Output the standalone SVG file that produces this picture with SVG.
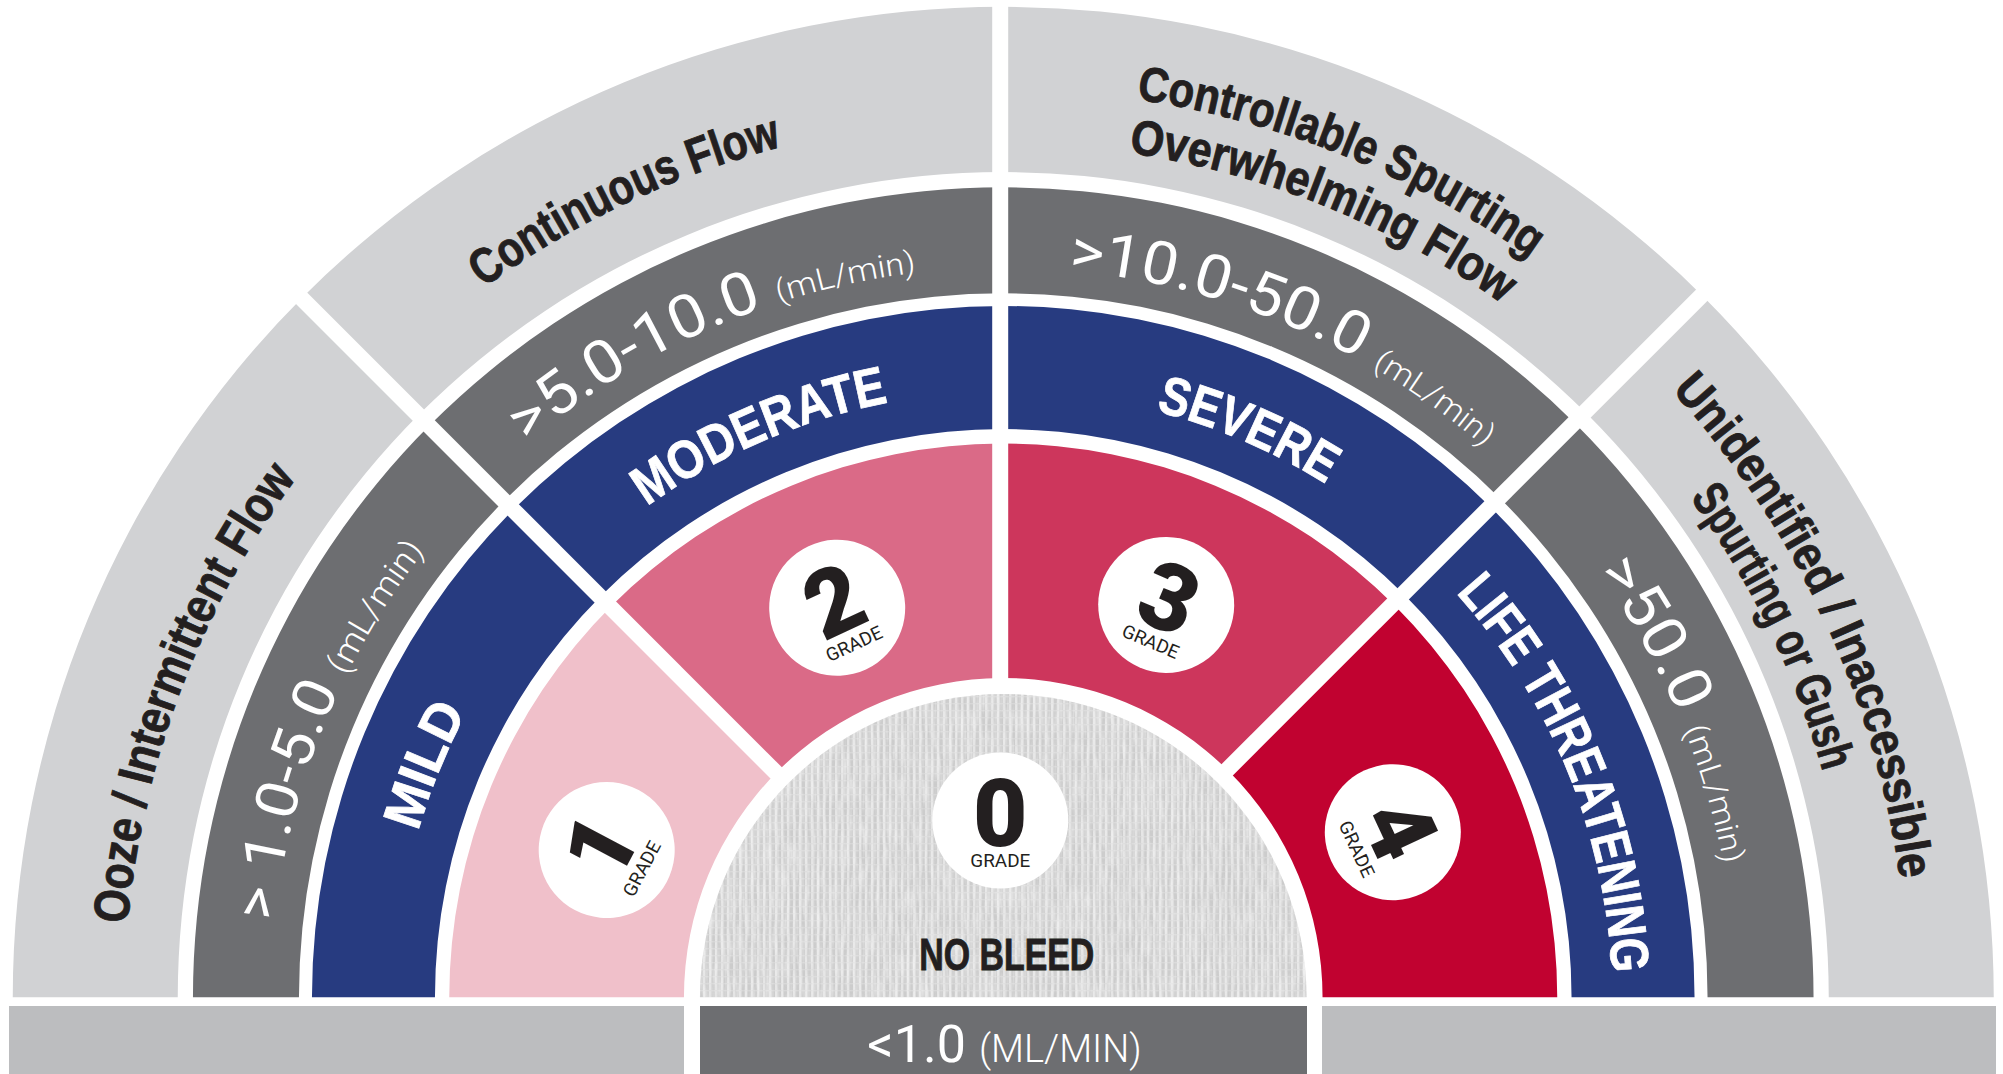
<svg xmlns="http://www.w3.org/2000/svg" width="2003" height="1074" viewBox="0 0 2003 1074">
<defs>
<style>
.ringA{fill:#d1d2d4}
.ringB{fill:#6d6e71}
.ringC{fill:#273b80}
.div{stroke:#fff;stroke-width:16;fill:none}
.lbl{font-family:'Liberation Sans Narrow','Liberation Sans',Arial,sans-serif;font-weight:700;fill:#231f20;stroke:#231f20;stroke-width:0.9px}
.wlbl{font-family:'Liberation Sans Narrow','Liberation Sans',Arial,sans-serif;font-weight:700;fill:#fff;stroke:#fff;stroke-width:0.8px}
.num{font-family:Roboto,'DejaVu Sans',sans-serif;font-weight:400;fill:#fff}
.unit{font-weight:300}
.gd{font-family:Roboto,'DejaVu Sans',sans-serif;font-weight:900;fill:#231f20;text-anchor:middle;font-size:94px}
.gt{font-family:Roboto,'DejaVu Sans',sans-serif;font-weight:400;fill:#231f20;text-anchor:middle;font-size:18.5px}
.gc{fill:#fff}
</style>
<path id="rA" d="M12.75 997.3A990.5 990.5 0 0 1 1993.75 997.3L1828.75 997.3A825.5 825.5 0 0 0 177.75 997.3Z"/>
<path id="rB" d="M192.95 997.3A810.3 810.3 0 0 1 1813.55 997.3L1707.55 997.3A704.3 704.3 0 0 0 298.95 997.3Z"/>
<path id="rC" d="M311.95 997.3A691.3 691.3 0 0 1 1694.55 997.3L1571.55 997.3A568.3 568.3 0 0 0 434.95 997.3Z"/>
<path id="rD" d="M449.25 997.3A554 554 0 0 1 1557.25 997.3L1322.55 997.3A319.3 319.3 0 0 0 683.95 997.3Z"/>
<path id="gz" d="M699.95 997.3A303.3 303.3 0 0 1 1306.55 997.3Z"/>
<clipPath id="q1"><polygon points="1000.15,996.85 -20,-23.3 -20,1000 1000.15,1000"/></clipPath>
<clipPath id="q2"><polygon points="1000.15,996.85 -20,-23.3 -20,-40 1000.2,-40"/></clipPath>
<clipPath id="q3"><polygon points="1000.15,996.85 1000.2,-40 2037,-40"/></clipPath>
<clipPath id="q4"><polygon points="1000.15,996.85 2037,-40 2040,-40 2040,1000 1000.15,1000"/></clipPath>
<pattern id="weave" width="6" height="7" patternUnits="userSpaceOnUse">
<rect width="6" height="7" fill="#cdcdcd"/>
<rect x="1" width="2.4" height="7" fill="#e6e6e6"/>
<rect y="3" width="6" height="1.3" fill="#dedede" opacity="0.7"/>
</pattern>
<filter id="noise" x="0" y="0" width="1" height="1">
<feTurbulence type="fractalNoise" baseFrequency="0.3 0.045" numOctaves="2" seed="4" result="n"/>
<feColorMatrix in="n" type="matrix" values="0 0 0 0 0.96 0 0 0 0 0.96 0 0 0 0 0.96 0 0 0 1.6 -0.55" result="w"/>
<feComposite in="w" in2="SourceGraphic" operator="in"/>
</filter>
<filter id="shade" x="0" y="0" width="1" height="1">
<feTurbulence type="fractalNoise" baseFrequency="0.02 0.012" numOctaves="2" seed="9" result="n"/>
<feColorMatrix in="n" type="matrix" values="0 0 0 0 0.55 0 0 0 0 0.55 0 0 0 0 0.55 0 0 0 0.9 -0.3" result="s"/>
<feComposite in="s" in2="SourceGraphic" operator="in"/>
</filter>
<path id="tA1" d="M127.6 923.9A879 879 0 0 1 325 441.4"/>
<path id="tA2" d="M483.55 287.85A882 882 0 0 1 827.4 136.2"/>
<path id="tA3a" d="M1136.35 99.3A911 911 0 0 1 1569.15 286.55"/>
<path id="tA3b" d="M1128.45 152.7A857 857 0 0 1 1537.95 330.7"/>
<path id="tA4a" d="M1671.55 390.3A905 905 0 0 1 1905.2 926.35"/>
<path id="tA4b" d="M1689.95 497.9A851 851 0 0 1 1833.75 814.9"/>
<path id="tB1" d="M274.55 921.3A733 733 0 0 1 449.25 520.6"/>
<path id="tB2" d="M527.2 443.1A733 733 0 0 1 954.65 269.1"/>
<path id="tB3" d="M1068.45 270.4A733 733 0 0 1 1512.45 473.2"/>
<path id="tB4" d="M1597.75 571.7A733 733 0 0 1 1729.65 902.3"/>
<path id="tC1" d="M418.15 831.6A609 609 0 0 1 482.35 685"/>
<path id="tC2" d="M647.05 506.6A609 609 0 0 1 919.55 397.3"/>
<path id="tC3" d="M1155.75 410.9A609 609 0 0 1 1352.55 501.6"/>
<path id="tC4" d="M1455.85 593A609 609 0 0 1 1612.25 1004.75"/>
</defs>

<g id="ring-flow">
<use href="#rA" class="ringA"/>
</g>
<g id="ring-rate">
<use href="#rB" class="ringB"/>
</g>
<g id="ring-severity">
<use href="#rC" class="ringC"/>
</g>
<g id="ring-grade">
<use href="#rD" fill="#f0c0ca" clip-path="url(#q1)"/>
<use href="#rD" fill="#da6a87" clip-path="url(#q2)"/>
<use href="#rD" fill="#cd365c" clip-path="url(#q3)"/>
<use href="#rD" fill="#c10230" clip-path="url(#q4)"/>
</g>

<g id="dividers">
<line class="div" x1="1000.15" y1="996.85" x2="-20" y2="-23.3"/>
<line class="div" x1="1000.2" y1="997" x2="1000.2" y2="-20"/>
<line class="div" x1="1000.15" y1="996.85" x2="2037" y2="-40"/>
</g>

<g id="no-bleed">
<use href="#gz" fill="url(#weave)"/>
<use href="#gz" fill="#000" filter="url(#shade)" opacity="0.35"/>
<use href="#gz" fill="#000" filter="url(#noise)" opacity="0.6"/>
<text class="lbl" x="919.3" y="970" font-size="45" textLength="175" lengthAdjust="spacingAndGlyphs">NO BLEED</text>
</g>

<g id="grade0" transform="translate(1000.3 820.5)"><circle class="gc" r="68"/><text class="gd" y="25.2">0</text><text class="gt" y="46.2" textLength="60" lengthAdjust="spacingAndGlyphs">GRADE</text></g>
<g id="grade1" transform="translate(606.7 850) rotate(-62)"><circle class="gc" r="68"/><text class="gd" y="25.2">1</text><text class="gt" y="46.2" textLength="60" lengthAdjust="spacingAndGlyphs">GRADE</text></g>
<g id="grade2" transform="translate(837.2 607.8) rotate(-25)"><circle class="gc" r="68"/><text class="gd" y="25.2">2</text><text class="gt" y="46.2" textLength="60" lengthAdjust="spacingAndGlyphs">GRADE</text></g>
<g id="grade3" transform="translate(1166.2 604.9) rotate(23)"><circle class="gc" r="68"/><text class="gd" y="25.2">3</text><text class="gt" y="46.2" textLength="60" lengthAdjust="spacingAndGlyphs">GRADE</text></g>
<g id="grade4" transform="translate(1392.8 832.2) rotate(65)"><circle class="gc" r="68"/><text class="gd" y="25.2">4</text><text class="gt" y="46.2" textLength="60" lengthAdjust="spacingAndGlyphs">GRADE</text></g>

<g id="flow-labels">
<text class="lbl" font-size="50"><textPath href="#tA1" textLength="483" lengthAdjust="spacingAndGlyphs">Ooze / Intermittent Flow</textPath></text>
<text class="lbl" font-size="50"><textPath href="#tA2" textLength="332" lengthAdjust="spacingAndGlyphs">Continuous Flow</textPath></text>
<text class="lbl" font-size="49"><textPath href="#tA3a" textLength="429" lengthAdjust="spacingAndGlyphs">Controllable Spurting</textPath></text>
<text class="lbl" font-size="49"><textPath href="#tA3b" textLength="407" lengthAdjust="spacingAndGlyphs">Overwhelming Flow</textPath></text>
<text class="lbl" font-size="49"><textPath href="#tA4a" textLength="548" lengthAdjust="spacingAndGlyphs">Unidentified / Inaccessible</textPath></text>
<text class="lbl" font-size="49"><textPath href="#tA4b" textLength="306" lengthAdjust="spacingAndGlyphs">Spurting or Gush</textPath></text>
</g>

<g id="rate-labels">
<text class="num" font-size="58"><textPath href="#tB1" textLength="405" lengthAdjust="spacingAndGlyphs">&gt; 1.0-5.0 <tspan class="unit" font-size="33">(mL/min)</tspan></textPath></text>
<text class="num" font-size="60"><textPath href="#tB2" textLength="431" lengthAdjust="spacingAndGlyphs">&gt;5.0-10.0 <tspan class="unit" font-size="31">(mL/min)</tspan></textPath></text>
<text class="num" font-size="60"><textPath href="#tB3" textLength="459" lengthAdjust="spacingAndGlyphs">&gt;10.0-50.0 <tspan class="unit" font-size="31">(mL/min)</tspan></textPath></text>
<text class="num" font-size="60"><textPath href="#tB4" textLength="321" lengthAdjust="spacingAndGlyphs">&gt;50.0 <tspan class="unit" font-size="31">(mL/min)</tspan></textPath></text>
</g>

<g id="severity-labels">
<text class="wlbl" font-size="54"><textPath href="#tC1" textLength="129" lengthAdjust="spacingAndGlyphs">MILD</textPath></text>
<text class="wlbl" font-size="54"><textPath href="#tC2" textLength="265" lengthAdjust="spacingAndGlyphs">MODERATE</textPath></text>
<text class="wlbl" font-size="54"><textPath href="#tC3" textLength="186" lengthAdjust="spacingAndGlyphs">SEVERE</textPath></text>
<text class="wlbl" font-size="54"><textPath href="#tC4" textLength="419" lengthAdjust="spacingAndGlyphs">LIFE THREATENING</textPath></text>
</g>

<g id="bottom-bar">
<rect x="9" y="1006" width="675" height="68" fill="#bcbdbf"/>
<rect x="700" y="1006" width="607" height="68" fill="#6d6e71"/>
<rect x="1322" y="1006" width="674" height="68" fill="#bcbdbf"/>
<text class="num" x="867.3" y="1061.5" font-size="52" textLength="274.4" lengthAdjust="spacingAndGlyphs">&lt;1.0 <tspan class="unit" font-size="38">(ML/MIN)</tspan></text>
</g>
</svg>
